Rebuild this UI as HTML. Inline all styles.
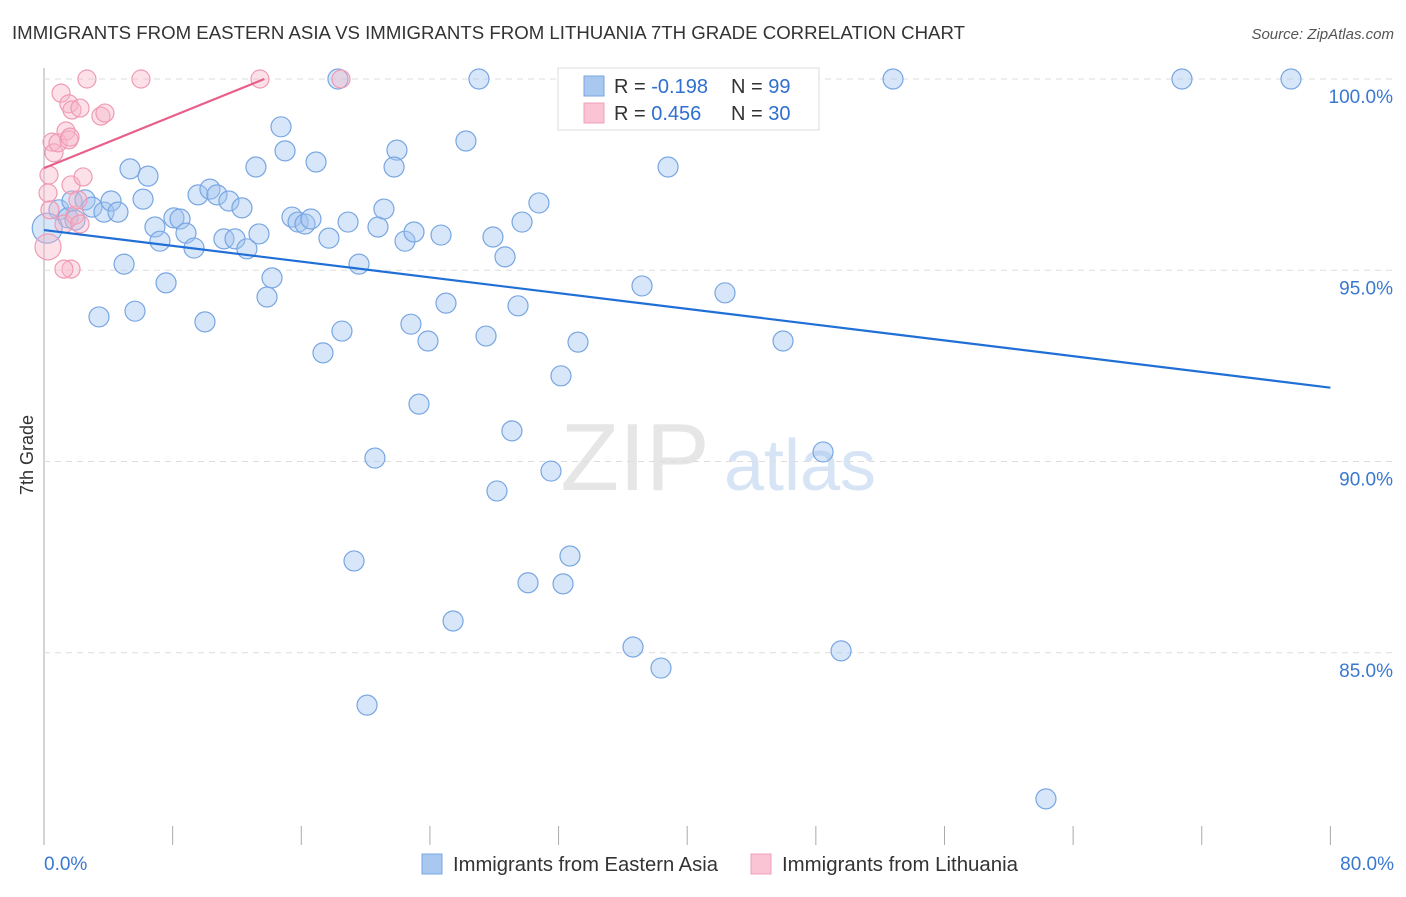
<!DOCTYPE html>
<html><head><meta charset="utf-8"><style>
body{margin:0;background:#fff;font-family:"Liberation Sans",sans-serif;}
svg text{font-family:"Liberation Sans",sans-serif;}
</style></head><body>
<svg id="c" width="1406" height="892" xmlns="http://www.w3.org/2000/svg">
<text x="12" y="39" font-size="18" fill="#333" textLength="953" lengthAdjust="spacingAndGlyphs">IMMIGRANTS FROM EASTERN ASIA VS IMMIGRANTS FROM LITHUANIA 7TH GRADE CORRELATION CHART</text>
<text x="1394" y="39" font-size="15" fill="#555" font-style="italic" text-anchor="end">Source: ZipAtlas.com</text>
<text transform="translate(33,455) rotate(-90)" font-size="18" fill="#333" text-anchor="middle">7th Grade</text>
<g><text x="635" y="490" font-size="96" fill="#e6e6e6" text-anchor="middle" font-family="Liberation Serif">ZIP</text><text x="800" y="490" font-size="72" fill="#d6e4f5" text-anchor="middle">atlas</text></g>
<g id="grid"></g><g id="pts"></g><g id="lines"></g>
<g>
<rect x="558" y="68" width="261" height="62" fill="#fff" stroke="#ddd"/>
<rect x="584" y="76" width="20" height="20" fill="#a8c8f0" stroke="#7aa6e0"/>
<rect x="584" y="103" width="20" height="20" fill="#fac4d4" stroke="#f0a0b8"/>
<text x="614" y="93" font-size="20" fill="#333">R = <tspan fill="#2f6fd0">-0.198</tspan></text>
<text x="731" y="93" font-size="20" fill="#333">N = <tspan fill="#2f6fd0">99</tspan></text>
<text x="614" y="120" font-size="20" fill="#333">R = <tspan fill="#2f6fd0"> 0.456</tspan></text>
<text x="731" y="120" font-size="20" fill="#333">N = <tspan fill="#2f6fd0">30</tspan></text>
</g>
<g>
<rect x="422" y="854" width="20" height="20" fill="#a8c8f0" stroke="#7aa6e0"/>
<text x="453" y="871" font-size="20" fill="#333" textLength="265" lengthAdjust="spacingAndGlyphs">Immigrants from Eastern Asia</text>
<rect x="751" y="854" width="20" height="20" fill="#fac4d4" stroke="#f0a0b8"/>
<text x="782" y="871" font-size="20" fill="#333" textLength="236" lengthAdjust="spacingAndGlyphs">Immigrants from Lithuania</text>
</g>
</svg>
<script>
const yTicks=[100,95,90,85];
const yTickLabels=["100.0%","95.0%","90.0%","85.0%"];
const xTickVals=[0,8,16,24,32,40,48,56,64,72,80];
const xEndLabels=["0.0%","80.0%"];
const blueX=[0.93,1.49,1.93,1.74,2.55,2.99,3.73,4.17,4.60,5.35,6.16,6.47,6.90,7.21,8.08,8.46,8.83,9.33,4.98,3.42,5.66,7.59,9.58,10.32,10.76,11.50,12.31,11.19,11.88,12.62,13.37,13.18,14.74,14.99,16.92,15.42,15.80,16.23,16.60,17.72,18.91,19.59,20.77,21.14,21.95,21.77,22.45,23.01,24.69,14.18,13.87,10.01,17.35,18.53,22.82,23.88,25.00,23.32,20.58,19.28,20.09,25.44,26.24,27.05,27.92,28.67,27.49,29.48,29.73,30.78,29.10,28.17,30.10,31.53,32.28,32.71,32.15,33.21,37.19,38.81,36.63,38.37,42.35,45.96,48.45,49.57,52.80,62.31,70.77,77.55,18.28,34.27,37.81,43.03,0.2];
const blueY=[96.58,96.37,96.31,96.81,96.84,96.65,96.52,96.81,96.52,97.65,96.86,97.46,96.13,95.76,96.37,96.34,95.97,95.58,95.16,93.78,93.93,94.67,96.97,97.12,96.97,96.81,96.63,95.82,95.82,95.56,95.95,97.70,98.75,98.12,97.83,96.39,96.26,96.21,96.34,95.84,96.26,95.16,96.13,96.60,98.14,97.70,95.76,96.00,95.92,94.80,94.30,93.65,92.84,93.41,93.59,93.15,94.14,91.50,90.09,87.40,83.63,85.83,98.38,100,95.87,95.35,93.28,94.07,96.26,96.76,90.80,89.23,86.83,89.75,86.80,87.53,92.24,93.12,94.59,97.70,85.15,84.60,94.41,93.15,90.25,85.05,100,81.18,100,100,100,99.84,100,100,96.1];
const pinkX=[0.25,0.37,0.25,0.31,0.50,0.62,0.87,1.06,1.37,1.55,1.55,1.74,2.24,1.24,1.68,1.68,1.24,1.93,2.24,2.43,2.11,2.67,6.03,13.43,18.47,3.54,3.79,1.62];
const pinkY=[95.61,96.58,97.02,97.49,98.35,98.07,98.33,99.63,98.64,98.41,99.35,99.19,99.24,96.21,97.23,95.03,95.03,96.44,96.21,97.44,96.84,100,100,100,100,99.03,99.11,98.48];
const blueTrend=[[0,96.05],[80,91.93]];
const pinkTrend=[[0,97.67],[13.7,100]];
const NS="http://www.w3.org/2000/svg";
const X=v=>44+v*16.08, Y=v=>79+(100-v)*38.25;
function mk(t,a,p){const e=document.createElementNS(NS,t);for(const k in a)e.setAttribute(k,a[k]);document.getElementById(p).appendChild(e);return e;}
const ax=mk('line',{x1:44,y1:68,x2:44,y2:845,stroke:'#aaa'},'grid');


yTicks.forEach((v,i)=>{
 const g=mk('line',{x1:44,x2:1394,y1:Y(v),y2:Y(v),stroke:'#ddd','stroke-dasharray':'6,5'},'grid');
 
 
 const t=mk('text',{x:1393,y:Y(v)+24,'font-size':19,fill:'#3a78d0','text-anchor':'end'},'grid');
 t.textContent=yTickLabels[i];
 
 
});
xTickVals.forEach(v=>{
 const t=mk('line',{x1:X(v),x2:X(v),y1:826,y2:845,stroke:'#aaa'},'grid');
 
 
});
[[0,'start',44],[80,'end',1394]].forEach((d,i)=>{
 const t=mk('text',{x:d[2],y:870,'font-size':19,fill:'#3a78d0','text-anchor':d[1]},'grid');
 t.textContent=xEndLabels[i];
 
 
});
blueX.forEach((v,i)=>{
 const r=i===blueX.length-1?15:10;
 const c=mk('circle',{cx:X(v),cy:Y(blueY[i]),r:r,fill:'rgba(160,196,240,0.42)',stroke:'#78a6e2','stroke-width':1.2},'pts');
 
 
});
pinkX.forEach((v,i)=>{
 const r=i===0?13:9;
 const c=mk('circle',{cx:X(v),cy:Y(pinkY[i]),r:r,fill:'rgba(248,180,200,0.4)',stroke:'#f09ab4','stroke-width':1.2},'pts');
 
 
});
const bl=mk('line',{x1:X(blueTrend[0][0]),y1:Y(blueTrend[0][1]),x2:X(blueTrend[1][0]),y2:Y(blueTrend[1][1]),stroke:'#1f6fd6','stroke-width':2.2},'lines');


const pl=mk('line',{x1:X(pinkTrend[0][0]),y1:Y(pinkTrend[0][1]),x2:X(pinkTrend[1][0]),y2:Y(pinkTrend[1][1]),stroke:'#e8608a','stroke-width':2.2},'lines');


</script>
</body></html>
